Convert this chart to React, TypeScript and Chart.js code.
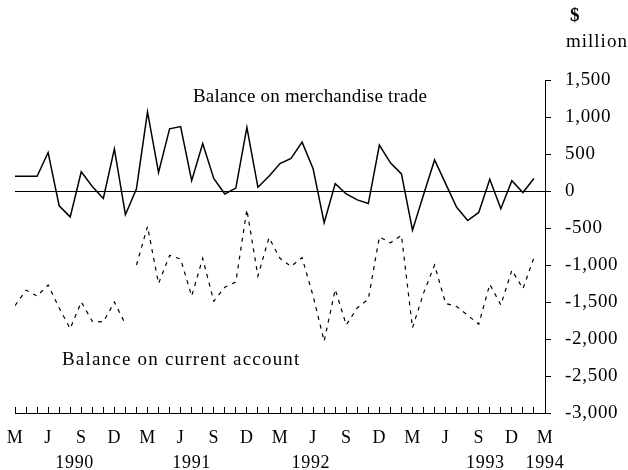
import React, { useEffect, useRef } from 'react';
import { Chart, registerables } from 'chart.js';

Chart.register(...registerables);

// Months counted from March 1990 (index 0) to March 1994 (index 48)
const monthIndex = Array.from({ length: 48 }, (_, i) => i);
const monthLetters = ['M', 'J', 'S', 'D'];

const yearLabels = ['1990', '1991', '1992', '1993', '1994'];
const yearPositions = [5.4, 16, 26.8, 42.6, 48];

const yTickValues = [1500, 1000, 500, 0, -500, -1000, -1500, -2000, -2500, -3000];

// $ million
const merchandiseTrade = [
  200, 200, 200, 520, -200, -350, 260, 60, -100, 570, -320, 30,
  1070, 250, 840, 870, 140, 640, 170, -40, 40, 860, 50, 200,
  370, 440, 660, 300, -430, 100, -40, -120, -170, 620, 380, 230,
  -530, -50, 420, 100, -220, -400, -290, 160, -240, 140, -20, 170,
];

const currentAccount = [
  -1550, -1340, -1420, -1270, -1580, -1860, -1500, -1760, -1770, -1500, -1800, -1000,
  -480, -1250, -870, -920, -1420, -910, -1490, -1300, -1230, -250, -1150, -630,
  -910, -1020, -900, -1420, -2030, -1330, -1810, -1580, -1460, -620, -700, -600,
  -1850, -1380, -1000, -1520, -1560, -1680, -1800, -1260, -1540, -1070, -1320, -900,
];
// last month before the break in the current account series
const currentAccountBreak = 10;

const tradeLabel = 'Balance on merchandise trade';
const currentLabel = 'Balance on current account';

export default function App() {
  const ref = useRef<HTMLCanvasElement>(null);

  useEffect(() => {
    if (!ref.current) return;
    const serif = "'Liberation Serif', 'Times New Roman', serif";

    const spacing = {
      id: 'spacing',
      beforeDraw(chart: any) {
        chart.ctx.letterSpacing = '0.7px';
      },
      afterDatasetsDraw(chart: any) {
        chart.ctx.letterSpacing = '0px';
      },
    };

    const annotations = {
      id: 'annotations',
      afterDraw(chart: any) {
        const ctx = chart.ctx;
        ctx.save();
        ctx.fillStyle = '#000';
        ctx.textBaseline = 'middle';
        ctx.textAlign = 'left';
        ctx.font = `19px ${serif}`;
        ctx.letterSpacing = '0.2px';
        ctx.fillText(tradeLabel, 193, 97);
        ctx.letterSpacing = '1.2px';
        ctx.fillText(currentLabel, 62, 360);
        ctx.letterSpacing = '0px';
        ctx.font = `bold 19px ${serif}`;
        ctx.fillText('$', 570, 16);
        ctx.font = `19px ${serif}`;
        ctx.letterSpacing = '1px';
        ctx.fillText('million', 566, 42);
        ctx.restore();
      },
    };

    const early = currentAccount.map((v, i) => (i <= currentAccountBreak ? v : null));
    const late = currentAccount.map((v, i) => (i > currentAccountBreak ? v : null));

    const noSidePadding = (s: any) => {
      s.paddingLeft = 0;
      s.paddingRight = 0;
    };

    const chart = new Chart(ref.current, {
      type: 'line',
      data: {
        labels: monthIndex,
        datasets: [
          {
            label: tradeLabel,
            data: merchandiseTrade,
            borderColor: '#000',
            borderWidth: 1.5,
            pointRadius: 0,
            tension: 0,
            fill: false,
          },
          {
            label: currentLabel,
            data: early,
            borderColor: '#000',
            borderWidth: 1.2,
            borderDash: [4, 5],
            pointRadius: 0,
            tension: 0,
            fill: false,
            spanGaps: false,
          },
          {
            label: currentLabel + ' (after break)',
            data: late,
            borderColor: '#000',
            borderWidth: 1.2,
            borderDash: [4, 5],
            pointRadius: 0,
            tension: 0,
            fill: false,
            spanGaps: false,
          },
        ],
      },
      options: {
        animation: false,
        responsive: false,
        layout: { padding: { left: 15, right: 0, top: 80, bottom: 0 } },
        plugins: { legend: { display: false }, tooltip: { enabled: false } },
        scales: {
          x: {
            type: 'linear',
            position: 'bottom',
            min: 0,
            max: 48,
            afterFit: (s: any) => {
              s.height = 37;
              noSidePadding(s);
            },
            ticks: {
              stepSize: 1,
              autoSkip: false,
              maxRotation: 0,
              padding: 20,
              color: '#000',
              font: { family: serif, size: 18 },
              callback: (v: any) => (Number(v) % 3 === 0 ? monthLetters[(Number(v) / 3) % 4] : ''),
            },
            grid: {
              drawOnChartArea: false,
              tickLength: -6,
              color: '#000',
              tickColor: '#000',
              lineWidth: 1,
            },
            border: { display: true, color: '#000', width: 1 },
          },
          x2: {
            type: 'linear',
            position: 'bottom',
            weight: 1,
            min: 0,
            max: 48,
            afterFit: (s: any) => {
              s.height = 20;
              noSidePadding(s);
            },
            afterBuildTicks: (s: any) => {
              s.ticks = yearPositions.map((v) => ({ value: v }));
            },
            ticks: {
              autoSkip: false,
              maxRotation: 0,
              padding: 2,
              color: '#000',
              font: { family: serif, size: 18 },
              callback: (_v: any, i: number) => yearLabels[i],
            },
            grid: { display: false, drawTicks: false },
            border: { display: false },
          },
          y: {
            type: 'linear',
            position: 'right',
            min: yTickValues[yTickValues.length - 1],
            max: yTickValues[0],
            afterFit: (s: any) => {
              s.width = 83;
            },
            ticks: {
              stepSize: 500,
              padding: 14,
              color: '#000',
              font: { family: serif, size: 19 },
              callback: (v: any) => Number(v).toLocaleString('en-US'),
            },
            grid: {
              color: (ctx: any) => (ctx.tick && ctx.tick.value === 0 ? '#000' : 'rgba(0,0,0,0)'),
              tickColor: '#000',
              tickLength: 6,
              lineWidth: 1,
            },
            border: { display: true, color: '#000', width: 1 },
          },
        },
      },
      plugins: [spacing, annotations],
    });

    return () => chart.destroy();
  }, []);

  return (
    <div style={{ position: 'fixed', left: 0, top: 0, width: 628, height: 470, background: '#fff' }}>
      <canvas ref={ref} width={628} height={470} style={{ display: 'block' }} />
    </div>
  );
}
